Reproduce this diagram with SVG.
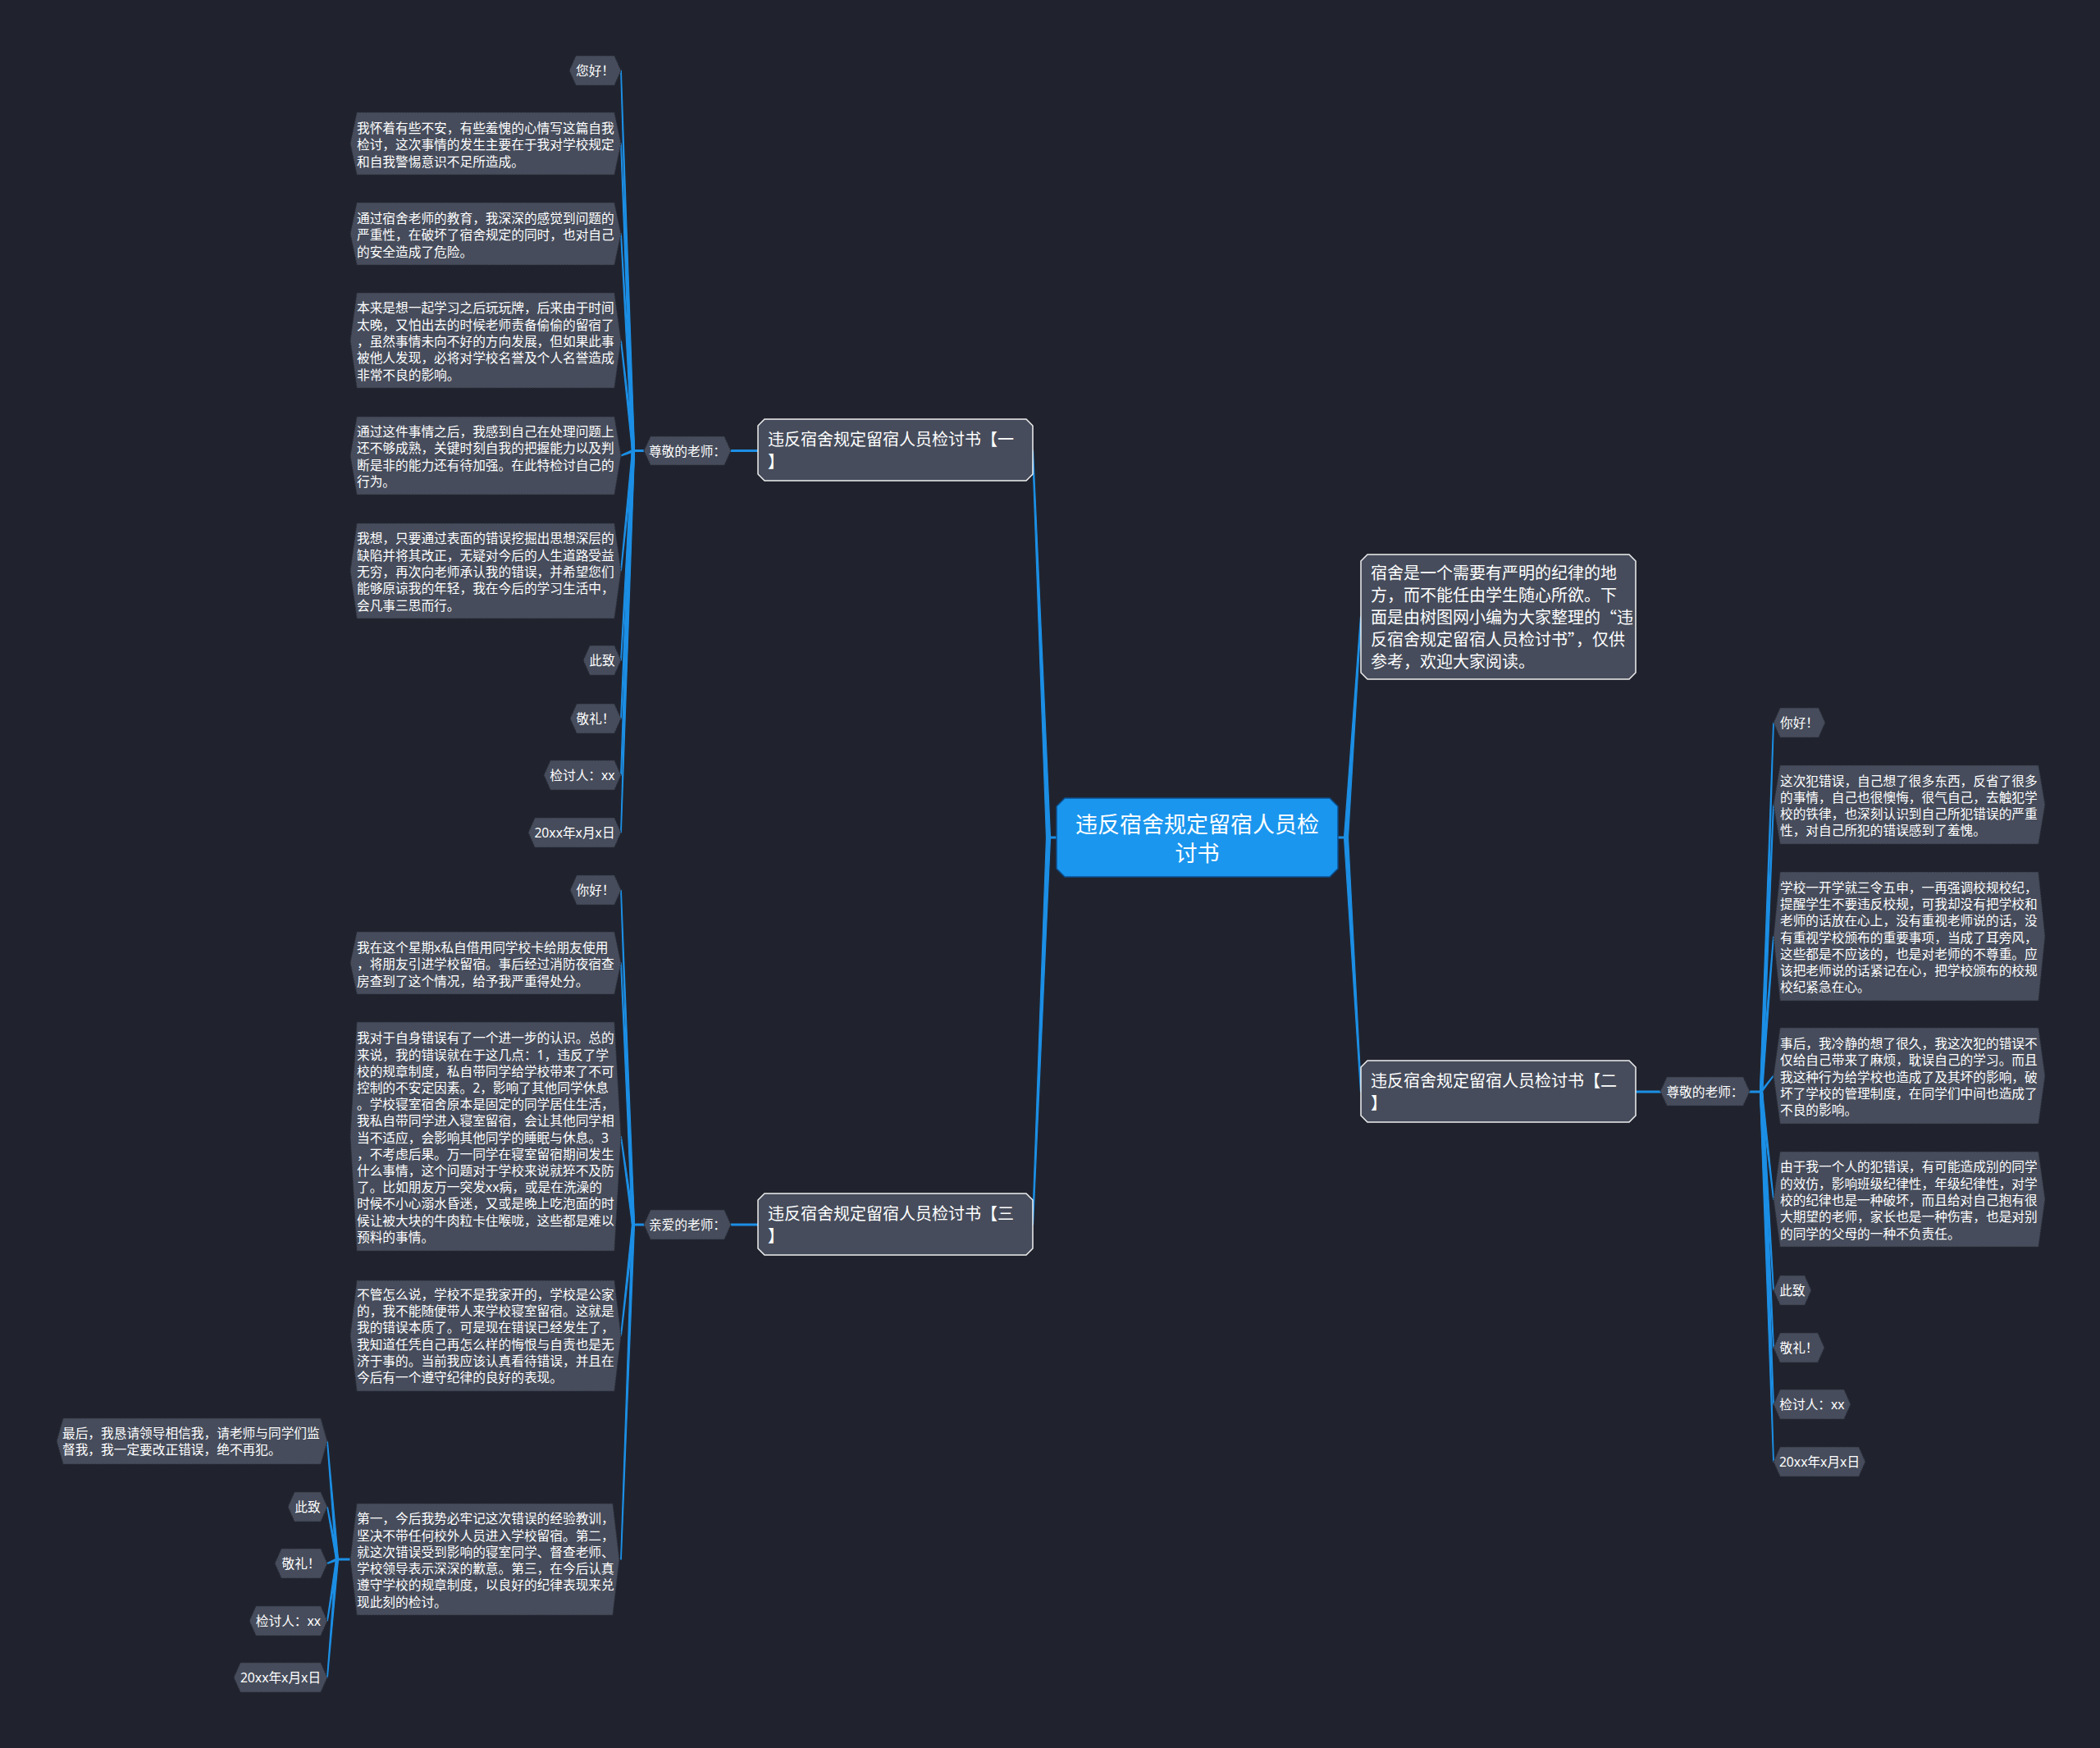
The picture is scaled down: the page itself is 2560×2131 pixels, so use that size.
<svg xmlns="http://www.w3.org/2000/svg" width="2560" height="2131" viewBox="0 0 2560 2131">
<style>
.t{font-family:"Noto Sans","Noto Sans CJK SC",sans-serif;fill:#ffffff;font-size:15.7px;dominant-baseline:central}
.c{text-anchor:middle}
.bt{font-family:"Noto Sans","Noto Sans CJK SC",sans-serif;fill:#ffffff;font-size:20px;dominant-baseline:central}
.rt{font-family:"Noto Sans","Noto Sans CJK SC",sans-serif;fill:#ffffff;font-size:27px;dominant-baseline:central;text-anchor:middle}
.hex{fill:#464c5b;stroke:#2a2e39;stroke-width:1.2;stroke-dasharray:2 1.5}
.br{fill:#464c5b;stroke:#f0f0f0;stroke-width:1.5}
.root{fill:#1a96ee;stroke:#0c4f8f;stroke-width:1.5}
.ln{stroke:#1c8fe5;stroke-width:3;fill:none;stroke-linecap:round}
.fan{fill:#1c8fe5;stroke:#1c8fe5;stroke-width:1.2;stroke-linejoin:round}
</style>
<rect width="2560" height="2131" fill="#20232e"/>
<g id="connectors">
<path class="ln" d="M1288 1021H1278M1631 1021H1641M924 549.5H891M924 1493H891M1994 1331H2024M785 549.5H772M785 1493H772M2133 1331H2147M427 1901H411"/>
<path class="fan" d="M1275.5 1021L1280.5 1021L1259.5 549L1258.5 549Z"/>
<path class="fan" d="M1275.5 1021L1280.5 1021L1259.5 1493L1258.5 1493Z"/>
<path class="fan" d="M1638.5 1021L1643.5 1021L1659.5 752L1658.5 752Z"/>
<path class="fan" d="M1638.5 1021L1643.5 1021L1659.5 1331L1658.5 1331Z"/>
<path class="fan" d="M770.5 549.5L773.5 549.5L757.3 86L756.7 86Z"/>
<path class="fan" d="M770.5 549.5L773.5 549.5L757.3 175L756.7 175Z"/>
<path class="fan" d="M770.5 549.5L773.5 549.5L757.3 285L756.7 285Z"/>
<path class="fan" d="M770.5 549.5L773.5 549.5L757.3 415L756.7 415Z"/>
<path class="fan" d="M772 548L772 551L757 556L757 555Z"/>
<path class="fan" d="M770.5 549.5L773.5 549.5L757.3 696L756.7 696Z"/>
<path class="fan" d="M770.5 549.5L773.5 549.5L757.3 805L756.7 805Z"/>
<path class="fan" d="M770.5 549.5L773.5 549.5L757.3 876L756.7 876Z"/>
<path class="fan" d="M770.5 549.5L773.5 549.5L757.3 945L756.7 945Z"/>
<path class="fan" d="M770.5 549.5L773.5 549.5L757.3 1015L756.7 1015Z"/>
<path class="fan" d="M770.5 1493L773.5 1493L757.3 1085L756.7 1085Z"/>
<path class="fan" d="M770.5 1493L773.5 1493L757.3 1174L756.7 1174Z"/>
<path class="fan" d="M770.5 1493L773.5 1493L757.3 1385.5L756.7 1385.5Z"/>
<path class="fan" d="M770.5 1493L773.5 1493L757.3 1628.5L756.7 1628.5Z"/>
<path class="fan" d="M770.5 1493L773.5 1493L757.3 1901L756.7 1901Z"/>
<path class="fan" d="M409.5 1901L412.5 1901L399.3 1757L398.7 1757Z"/>
<path class="fan" d="M409.5 1901L412.5 1901L399.3 1837L398.7 1837Z"/>
<path class="fan" d="M411 1899.5L411 1902.5L399 1906.5L399 1905.5Z"/>
<path class="fan" d="M409.5 1901L412.5 1901L399.3 1976L398.7 1976Z"/>
<path class="fan" d="M409.5 1901L412.5 1901L399.3 2045L398.7 2045Z"/>
<path class="fan" d="M2145.5 1331L2148.5 1331L2162.3 881L2161.7 881Z"/>
<path class="fan" d="M2145.5 1331L2148.5 1331L2162.3 981L2161.7 981Z"/>
<path class="fan" d="M2145.5 1331L2148.5 1331L2162.3 1141.5L2161.7 1141.5Z"/>
<path class="fan" d="M2147 1329.5L2147 1332.5L2162 1312L2162 1311Z"/>
<path class="fan" d="M2145.5 1331L2148.5 1331L2162.3 1462L2161.7 1462Z"/>
<path class="fan" d="M2145.5 1331L2148.5 1331L2162.3 1573L2161.7 1573Z"/>
<path class="fan" d="M2145.5 1331L2148.5 1331L2162.3 1643L2161.7 1643Z"/>
<path class="fan" d="M2145.5 1331L2148.5 1331L2162.3 1712L2161.7 1712Z"/>
<path class="fan" d="M2145.5 1331L2148.5 1331L2162.3 1782L2161.7 1782Z"/>
</g>
<g id="root"><path class="root" d="M1298 973H1621L1631 983V1059L1621 1069H1298L1288 1059V983Z"/><text class="rt" x="1459.5" y="1004">违反宿舍规定留宿人员检</text><text class="rt" x="1459.5" y="1039">讨书</text></g>
<g id="b1"><path class="br" d="M932 511H1251L1259 519V578L1251 586H932L924 578V519Z"/><text class="bt" x="936" y="535.5">违反宿舍规定留宿人员检讨书【一</text><text class="bt" x="936" y="562.5">】</text></g>
<g id="b3"><path class="br" d="M932 1455H1251L1259 1463V1522L1251 1530H932L924 1522V1463Z"/><text class="bt" x="936" y="1479.5">违反宿舍规定留宿人员检讨书【三</text><text class="bt" x="936" y="1506.5">】</text></g>
<g id="b2"><path class="br" d="M1667 1293H1986L1994 1301V1360L1986 1368H1667L1659 1360V1301Z"/><text class="bt" x="1671" y="1317.5">违反宿舍规定留宿人员检讨书【二</text><text class="bt" x="1671" y="1344.5">】</text></g>
<g id="intro"><path class="br" d="M1667 676H1986L1994 684V820L1986 828H1667L1659 820V684Z"/><text class="bt" x="1671"><tspan x="1671" y="698">宿舍是一个需要有严明的纪律的地</tspan><tspan x="1671" y="725">方，而不能任由学生随心所欲。下</tspan><tspan x="1671" y="752">面是由树图网小编为大家整理的<tspan font-family="Noto Sans CJK SC,sans-serif">“</tspan>违</tspan><tspan x="1671" y="779">反宿舍规定留宿人员检讨书<tspan font-family="Noto Sans CJK SC,sans-serif">”</tspan>，仅供</tspan><tspan x="1671" y="806">参考，欢迎大家阅读。</tspan></text></g>
<g id="b1-sub"><path class="hex" d="M785 549.5L793 532H883L891 549.5L883 567H793Z"/><text class="t c" x="838" y="549.5">尊敬的老师：</text></g>
<g id="b3-sub"><path class="hex" d="M785 1493L793 1475H883L891 1493L883 1511H793Z"/><text class="t c" x="838" y="1493">亲爱的老师：</text></g>
<g id="b2-sub"><path class="hex" d="M2024 1330.5L2032 1313H2125L2133 1330.5L2125 1348H2032Z"/><text class="t c" x="2078.5" y="1330.5">尊敬的老师：</text></g>
<g id="b1-1"><path class="hex" d="M694 86L702 68H749L757 86L749 104H702Z"/><text class="t c" x="725.5" y="86">您好！</text></g>
<g id="b1-2"><path class="hex" d="M427 175L435 137H749L757 175L749 213H435Z"/><text class="t"><tspan x="435" y="156">我怀着有些不安，有些羞愧的心情写这篇自我</tspan><tspan x="435" y="176.3">检讨，这次事情的发生主要在于我对学校规定</tspan><tspan x="435" y="196.6">和自我警惕意识不足所造成。</tspan></text></g>
<g id="b1-3"><path class="hex" d="M427 285L435 247H749L757 285L749 323H435Z"/><text class="t"><tspan x="435" y="266">通过宿舍老师的教育，我深深的感觉到问题的</tspan><tspan x="435" y="286.3">严重性，在破坏了宿舍规定的同时，也对自己</tspan><tspan x="435" y="306.6">的安全造成了危险。</tspan></text></g>
<g id="b1-4"><path class="hex" d="M427 415L435 357H749L757 415L749 473H435Z"/><text class="t"><tspan x="435" y="375.4">本来是想一起学习之后玩玩牌，后来由于时间</tspan><tspan x="435" y="395.7">太晚，又怕出去的时候老师责备偷偷的留宿了</tspan><tspan x="435" y="416">，虽然事情未向不好的方向发展，但如果此事</tspan><tspan x="435" y="436.3">被他人发现，必将对学校名誉及个人名誉造成</tspan><tspan x="435" y="456.6">非常不良的影响。</tspan></text></g>
<g id="b1-5"><path class="hex" d="M427 555.5L435 508H749L757 555.5L749 603H435Z"/><text class="t"><tspan x="435" y="526">通过这件事情之后，我感到自己在处理问题上</tspan><tspan x="435" y="546.3">还不够成熟，关键时刻自我的把握能力以及判</tspan><tspan x="435" y="566.6">断是非的能力还有待加强。在此特检讨自己的</tspan><tspan x="435" y="586.9">行为。</tspan></text></g>
<g id="b1-6"><path class="hex" d="M427 696L435 638H749L757 696L749 754H435Z"/><text class="t"><tspan x="435" y="656.4">我想，只要通过表面的错误挖掘出思想深层的</tspan><tspan x="435" y="676.7">缺陷并将其改正，无疑对今后的人生道路受益</tspan><tspan x="435" y="697">无穷，再次向老师承认我的错误，并希望您们</tspan><tspan x="435" y="717.3">能够原谅我的年轻，我在今后的学习生活中，</tspan><tspan x="435" y="737.6">会凡事三思而行。</tspan></text></g>
<g id="b1-7"><path class="hex" d="M711 805L719 787H749L757 805L749 823H719Z"/><text class="t c" x="734" y="805">此致</text></g>
<g id="b1-8"><path class="hex" d="M695 876L703 858H749L757 876L749 894H703Z"/><text class="t c" x="726" y="876">敬礼！</text></g>
<g id="b1-9"><path class="hex" d="M663 945L671 927H749L757 945L749 963H671Z"/><text class="t c" x="710" y="945">检讨人：xx</text></g>
<g id="b1-10"><path class="hex" d="M644 1015L652 997H749L757 1015L749 1033H652Z"/><text class="t c" x="700.5" y="1015">20xx年x月x日</text></g>
<g id="b3-1"><path class="hex" d="M695 1085L703 1067H749L757 1085L749 1103H703Z"/><text class="t c" x="726" y="1085">你好！</text></g>
<g id="b3-2"><path class="hex" d="M427 1174L435 1136H749L757 1174L749 1212H435Z"/><text class="t"><tspan x="435" y="1155">我在这个星期x私自借用同学校卡给朋友使用</tspan><tspan x="435" y="1175.3">，将朋友引进学校留宿。事后经过消防夜宿查</tspan><tspan x="435" y="1195.6">房查到了这个情况，给予我严重得处分。</tspan></text></g>
<g id="b3-3"><path class="hex" d="M427 1385.5L435 1246H749L757 1385.5L749 1525H435Z"/><text class="t"><tspan x="435" y="1265.3">我对于自身错误有了一个进一步的认识。总的</tspan><tspan x="435" y="1285.5">来说，我的错误就在于这几点：1，违反了学</tspan><tspan x="435" y="1305.7">校的规章制度，私自带同学给学校带来了不可</tspan><tspan x="435" y="1325.9">控制的不安定因素。2，影响了其他同学休息</tspan><tspan x="435" y="1346.1">。学校寝室宿舍原本是固定的同学居住生活，</tspan><tspan x="435" y="1366.3">我私自带同学进入寝室留宿，会让其他同学相</tspan><tspan x="435" y="1386.5">当不适应，会影响其他同学的睡眠与休息。3</tspan><tspan x="435" y="1406.7">，不考虑后果。万一同学在寝室留宿期间发生</tspan><tspan x="435" y="1426.9">什么事情，这个问题对于学校来说就猝不及防</tspan><tspan x="435" y="1447.1">了。比如朋友万一突发xx病，或是在洗澡的</tspan><tspan x="435" y="1467.3">时候不小心溺水昏迷，又或是晚上吃泡面的时</tspan><tspan x="435" y="1487.5">候让被大块的牛肉粒卡住喉咙，这些都是难以</tspan><tspan x="435" y="1507.7">预料的事情。</tspan></text></g>
<g id="b3-4"><path class="hex" d="M427 1628.5L435 1561H749L757 1628.5L749 1696H435Z"/><text class="t"><tspan x="435" y="1577.7">不管怎么说，学校不是我家开的，学校是公家</tspan><tspan x="435" y="1598">的，我不能随便带人来学校寝室留宿。这就是</tspan><tspan x="435" y="1618.3">我的错误本质了。可是现在错误已经发生了，</tspan><tspan x="435" y="1638.6">我知道任凭自己再怎么样的悔恨与自责也是无</tspan><tspan x="435" y="1658.9">济于事的。当前我应该认真看待错误，并且在</tspan><tspan x="435" y="1679.2">今后有一个遵守纪律的良好的表现。</tspan></text></g>
<g id="b3-5"><path class="hex" d="M427 1901L435 1833H747L755 1901L747 1969H435Z"/><text class="t"><tspan x="435" y="1851.2">第一，今后我势必牢记这次错误的经验教训，</tspan><tspan x="435" y="1871.5">坚决不带任何校外人员进入学校留宿。第二，</tspan><tspan x="435" y="1891.8">就这次错误受到影响的寝室同学、督查老师、</tspan><tspan x="435" y="1912.1">学校领导表示深深的歉意。第三，在今后认真</tspan><tspan x="435" y="1932.4">遵守学校的规章制度，以良好的纪律表现来兑</tspan><tspan x="435" y="1952.7">现此刻的检讨。</tspan></text></g>
<g id="b3-5-1"><path class="hex" d="M69 1757L77 1729H391L399 1757L391 1785H77Z"/><text class="t"><tspan x="76" y="1747">最后，我恳请领导相信我，请老师与同学们监</tspan><tspan x="76" y="1767.3">督我，我一定要改正错误，绝不再犯。</tspan></text></g>
<g id="b3-5-2"><path class="hex" d="M351 1837L359 1819H391L399 1837L391 1855H359Z"/><text class="t c" x="375" y="1837">此致</text></g>
<g id="b3-5-3"><path class="hex" d="M335 1906L343 1888H391L399 1906L391 1924H343Z"/><text class="t c" x="367" y="1906">敬礼！</text></g>
<g id="b3-5-4"><path class="hex" d="M304 1976L312 1958H391L399 1976L391 1994H312Z"/><text class="t c" x="351.5" y="1976">检讨人：xx</text></g>
<g id="b3-5-5"><path class="hex" d="M285 2045L293 2027H391L399 2045L391 2063H293Z"/><text class="t c" x="342" y="2045">20xx年x月x日</text></g>
<g id="b2-1"><path class="hex" d="M2162 881L2170 863H2217L2225 881L2217 899H2170Z"/><text class="t c" x="2193.5" y="881">你好！</text></g>
<g id="b2-2"><path class="hex" d="M2162 981L2170 933H2485L2493 981L2485 1029H2170Z"/><text class="t"><tspan x="2170" y="951.5">这次犯错误，自己想了很多东西，反省了很多</tspan><tspan x="2170" y="971.8">的事情，自己也很懊悔，很气自己，去触犯学</tspan><tspan x="2170" y="992.1">校的铁律，也深刻认识到自己所犯错误的严重</tspan><tspan x="2170" y="1012.4">性，对自己所犯的错误感到了羞愧。</tspan></text></g>
<g id="b2-3"><path class="hex" d="M2162 1141.5L2170 1063H2485L2493 1141.5L2485 1220H2170Z"/><text class="t"><tspan x="2170" y="1081.9">学校一开学就三令五申，一再强调校规校纪，</tspan><tspan x="2170" y="1102.1">提醒学生不要违反校规，可我却没有把学校和</tspan><tspan x="2170" y="1122.3">老师的话放在心上，没有重视老师说的话，没</tspan><tspan x="2170" y="1142.5">有重视学校颁布的重要事项，当成了耳旁风，</tspan><tspan x="2170" y="1162.7">这些都是不应该的，也是对老师的不尊重。应</tspan><tspan x="2170" y="1182.9">该把老师说的话紧记在心，把学校颁布的校规</tspan><tspan x="2170" y="1203.1">校纪紧急在心。</tspan></text></g>
<g id="b2-4"><path class="hex" d="M2162 1311.5L2170 1253H2485L2493 1311.5L2485 1370H2170Z"/><text class="t"><tspan x="2170" y="1271.9">事后，我冷静的想了很久，我这次犯的错误不</tspan><tspan x="2170" y="1292.2">仅给自己带来了麻烦，耽误自己的学习。而且</tspan><tspan x="2170" y="1312.5">我这种行为给学校也造成了及其坏的影响，破</tspan><tspan x="2170" y="1332.8">坏了学校的管理制度，在同学们中间也造成了</tspan><tspan x="2170" y="1353.1">不良的影响。</tspan></text></g>
<g id="b2-5"><path class="hex" d="M2162 1462L2170 1404H2485L2493 1462L2485 1520H2170Z"/><text class="t"><tspan x="2170" y="1422.4">由于我一个人的犯错误，有可能造成别的同学</tspan><tspan x="2170" y="1442.7">的效仿，影响班级纪律性，年级纪律性，对学</tspan><tspan x="2170" y="1463">校的纪律也是一种破坏，而且给对自己抱有很</tspan><tspan x="2170" y="1483.3">大期望的老师，家长也是一种伤害，也是对别</tspan><tspan x="2170" y="1503.6">的同学的父母的一种不负责任。</tspan></text></g>
<g id="b2-6"><path class="hex" d="M2162 1573L2170 1555H2200L2208 1573L2200 1591H2170Z"/><text class="t c" x="2185" y="1573">此致</text></g>
<g id="b2-7"><path class="hex" d="M2162 1643L2170 1625H2216L2224 1643L2216 1661H2170Z"/><text class="t c" x="2193" y="1643">敬礼！</text></g>
<g id="b2-8"><path class="hex" d="M2162 1712L2170 1694H2248L2256 1712L2248 1730H2170Z"/><text class="t c" x="2209" y="1712">检讨人：xx</text></g>
<g id="b2-9"><path class="hex" d="M2162 1782L2170 1764H2266L2274 1782L2266 1800H2170Z"/><text class="t c" x="2218" y="1782">20xx年x月x日</text></g>
</svg>
